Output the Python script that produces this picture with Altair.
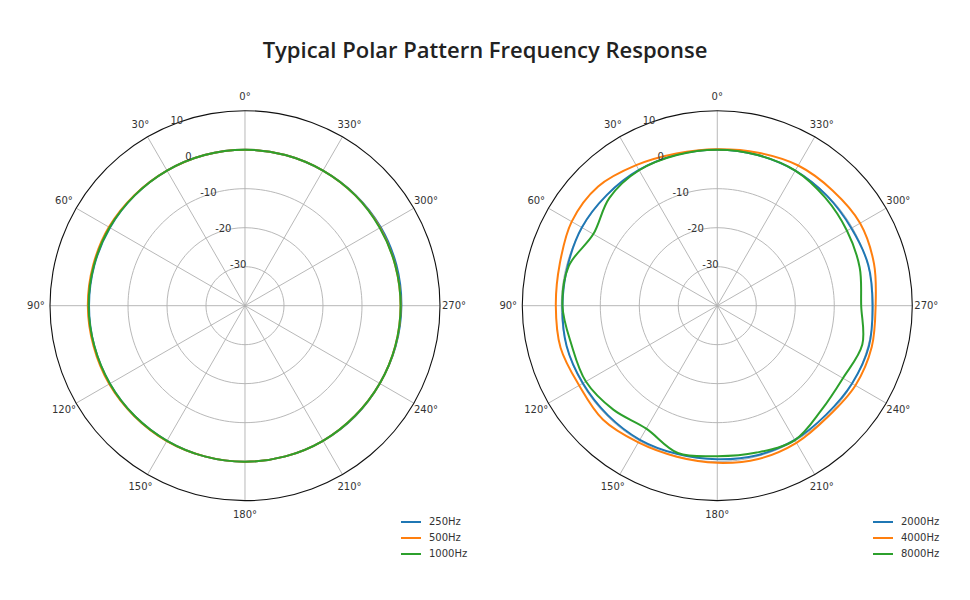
import altair as alt
import pandas as pd

# ---------------- data ----------------
angles = [0, 15, 30, 45, 60, 75, 90, 105, 120, 135, 150, 165,
          180, 195, 210, 225, 240, 255, 270, 285, 300, 315, 330, 345]

low_names = ["250Hz", "500Hz", "1000Hz"]
hz250 = [0.0, 0.0, 0.0, 0.0, 0.0, 0.0, 0.0, 0.0, 0.0, 0.0, 0.0, 0.0,
         0.0, 0.0, 0.0, 0.0, -0.1, 0.0, 0.1, 0.2, 0.2, 0.1, 0.0, 0.0]
hz500 = [0.0, 0.0, 0.0, 0.1, 0.3, 0.3, 0.3, 0.2, 0.2, 0.1, 0.1, 0.0,
         0.0, 0.0, 0.0, -0.1, -0.1, -0.1, -0.1, -0.1, 0.0, 0.0, 0.0, 0.0]
hz1000 = [0.0, 0.0, 0.0, 0.0, 0.1, 0.1, 0.1, 0.0, 0.0, 0.0, 0.0, 0.0,
          0.0, 0.0, 0.0, -0.1, -0.1, -0.1, -0.1, -0.1, -0.1, 0.0, 0.0, 0.0]

high_names = ["2000Hz", "4000Hz", "8000Hz"]
hz2000 = [0.0, 0.1, 0.2, 0.1, 0.1, -0.3, -0.3, 0.0, -0.2, -0.3, -0.3, -0.6,
          -0.6, -0.3, -0.25, -0.5, -0.1, 0.25, -0.2, 0.1, -0.3, -0.2, 0.0, 0.0]
hz4000 = [0.1, 0.4, 1.6, 3.2, 3.1, 1.8, 1.4, 1.6, 0.9, 1.4, 0.5, 0.1,
          0.3, 0.7, 0.6, 0.2, 0.9, 1.0, 0.6, 1.6, 2.3, 1.8, 1.5, 0.6]
hz8000 = [0.0, 0.0, 0.1, -0.9, -3.3, -0.6, -0.3, -1.3, -1.1, -2.3, -3.6, -0.9,
          -1.4, -1.0, -0.2, -2.2, -2.8, -1.5, -3.1, -2.2, -1.6, -0.85, 0.0, 0.0]

colors = ["#1f77b4", "#ff7f0e", "#2ca02c"]

ring_values = [-30, -20, -10, 0]
outer_value = 10
r_min = -40
spoke_angles = [0, 30, 60, 90, 120, 150, 180, 210, 240, 270, 300, 330]
angle_labels = [f"{a}°" for a in spoke_angles]
radial_labels = ["10", "0", "-10", "-20", "-30"]
radial_label_values = [10, 0, -10, -20, -30]

# ---------------- layout ----------------
centers = {"low": 0.0, "high": 121.1}   # panel centre offsets (in radial units)
X_DOM = [-60.77, 183.85]
Y_DOM = [-69.83, 58.38]
W, H = 954, 500
LABEL_R = 53.6       # angle label radius (radial units from centre)
RLABEL_ANGLE = 22.5

xs = alt.Scale(domain=X_DOM, nice=False, zero=False)
ys = alt.Scale(domain=Y_DOM, nice=False, zero=False)

def series_frame(panel, names, series):
    rows = []
    for name, vals in zip(names, series):
        for i, (a, v) in enumerate(zip(angles, vals)):
            rows.append({"panel": panel, "cx": centers[panel], "series": name,
                         "angle": a, "db": v, "idx": i})
    return pd.DataFrame(rows)

low_df = series_frame("low", low_names, [hz250, hz500, hz1000])
high_df = series_frame("high", high_names, [hz2000, hz4000, hz8000])

ring_rows = []
for panel, cx in centers.items():
    for rv in ring_values + [outer_value]:
        for a in range(0, 360, 10):
            ring_rows.append({"key": f"{panel}{rv}", "cx": cx, "db": rv, "angle": a,
                              "outer": rv == outer_value})
ring_df = pd.DataFrame(ring_rows)

spoke_df = pd.DataFrame([{"cx": cx, "angle": a} for cx in centers.values() for a in spoke_angles])
alabel_df = pd.DataFrame([{"cx": cx, "angle": a, "label": l}
                          for cx in centers.values() for a, l in zip(spoke_angles, angle_labels)])
rlabel_df = pd.DataFrame([{"cx": cx, "db": v, "label": l}
                          for cx in centers.values() for v, l in zip(radial_label_values, radial_labels)])

polar_x = f"datum.cx - (datum.db - ({r_min})) * sin(datum.angle * PI / 180)"
polar_y = f"(datum.db - ({r_min})) * cos(datum.angle * PI / 180)"

def pos(xf="px", yf="py"):
    return dict(x=alt.X(f"{xf}:Q", scale=xs, axis=None),
                y=alt.Y(f"{yf}:Q", scale=ys, axis=None))

rings = alt.Chart(ring_df).transform_filter("!datum.outer").transform_calculate(
    px=polar_x, py=polar_y
).mark_line(interpolate="cardinal-closed", color="#b0b0b0", strokeWidth=0.9).encode(
    detail="key:N", order="angle:Q", **pos())

outer = alt.Chart(ring_df).transform_filter("datum.outer").transform_calculate(
    px=polar_x, py=polar_y
).mark_line(interpolate="cardinal-closed", color="#111111", strokeWidth=1.1).encode(
    detail="key:N", order="angle:Q", **pos())

spokes = alt.Chart(spoke_df).transform_calculate(
    px="datum.cx", py="0",
    px2=f"datum.cx - ({outer_value - r_min}) * sin(datum.angle * PI / 180)",
    py2=f"({outer_value - r_min}) * cos(datum.angle * PI / 180)",
).mark_rule(color="#b0b0b0", strokeWidth=0.9).encode(
    x2="px2:Q", y2="py2:Q", **pos())

alabels = alt.Chart(alabel_df).transform_calculate(
    px=f"datum.cx - {LABEL_R} * sin(datum.angle * PI / 180)",
    py=f"{LABEL_R} * cos(datum.angle * PI / 180)",
).mark_text(font="DejaVu Sans", fontSize=10, color="#333333", align="center",
            baseline="middle").encode(text="label:N", **pos())

rlabels = alt.Chart(rlabel_df).transform_calculate(
    px=f"datum.cx - (datum.db - ({r_min})) * sin({RLABEL_ANGLE} * PI / 180)",
    py=f"(datum.db - ({r_min})) * cos({RLABEL_ANGLE} * PI / 180)",
).mark_text(font="DejaVu Sans", fontSize=10, color="#333333", align="left",
            baseline="bottom").encode(text="label:N", **pos())

def curves(df, names, lx):
    return alt.Chart(df).transform_calculate(px=polar_x, py=polar_y).mark_line(
        interpolate="cardinal-closed", strokeWidth=2
    ).encode(
        color=alt.Color("series:N", scale=alt.Scale(domain=names, range=colors),
                        legend=alt.Legend(title=None, orient="none", legendX=lx, legendY=433,
                                          symbolType="stroke", symbolStrokeWidth=2,
                                          symbolSize=400, labelFontSize=10,
                                          labelFont="DejaVu Sans", labelColor="#333333",
                                          rowPadding=-7, padding=0, labelOffset=7)),
        order="idx:Q", **pos())

low_lines = curves(low_df, low_names, 392)
high_lines = curves(high_df, high_names, 864)

chart = alt.layer(rings, spokes, outer, low_lines, high_lines, alabels, rlabels).resolve_scale(
    color="independent"
).properties(
    width=W, height=H,
    title=alt.TitleParams("Typical Polar Pattern Frequency Response", font="Open Sans",
                          fontSize=22, fontWeight=600, color="#222222", anchor="middle",
                          baseline="alphabetic", offset=-2),
    autosize=alt.AutoSizeParams(type="none"),
    padding={"left": 0, "top": 70, "right": 0, "bottom": 0},
).configure(
    background="white",
    view=alt.ViewConfig(stroke="transparent", strokeWidth=0),
)

chart.save("out.html", embed_options={"renderer": "svg", "actions": False})
